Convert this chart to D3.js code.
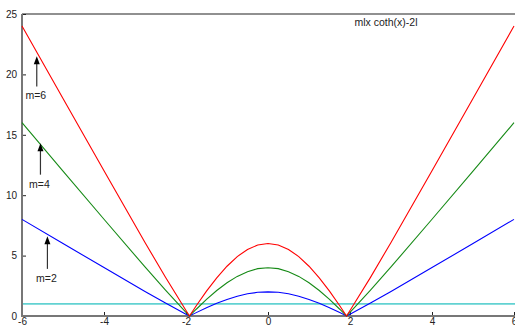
<!DOCTYPE html>
<html>
<head>
<meta charset="utf-8">
<script src="https://cdn.jsdelivr.net/npm/d3@7"></script>
<style>
  body { margin: 0; background: #fff; }
  svg { display: block; font-family: "Liberation Sans", Arial, sans-serif; }
</style>
</head>
<body>
<div id="chart"></div>
<script>
// sample x positions
const xs = [-6, -5, -4, -3, -2.5, -2, -1.915, -1.75, -1.5, -1.25, -1, -0.75, -0.5, -0.25, 0,
            0.25, 0.5, 0.75, 1, 1.25, 1.5, 1.75, 1.915, 2, 2.5, 3, 4, 5, 6];
const m2 = [8.00, 6.00, 4.01, 2.03, 1.07, 0.15, 0, 0.28, 0.69, 1.05, 1.37, 1.64, 1.84, 1.96, 2.00,
            1.96, 1.84, 1.64, 1.37, 1.05, 0.69, 0.28, 0, 0.15, 1.07, 2.03, 4.01, 6.00, 8.00];
const m4 = [16.00, 12.00, 8.01, 4.06, 2.14, 0.30, 0, 0.56, 1.37, 2.11, 2.75, 3.28, 3.67, 3.92, 4.00,
            3.92, 3.67, 3.28, 2.75, 2.11, 1.37, 0.56, 0, 0.30, 2.14, 4.06, 8.01, 12.00, 16.00];
const m6 = [24.00, 18.00, 12.02, 6.09, 3.20, 0.45, 0, 0.85, 2.06, 3.16, 4.12, 4.92, 5.51, 5.88, 6.00,
            5.88, 5.51, 4.92, 4.12, 3.16, 2.06, 0.85, 0, 0.45, 3.20, 6.09, 12.02, 18.00, 24.00];
const refLevel = 1;

const xTicks = [-6, -4, -2, 0, 2, 4, 6];
const yTicks = [0, 5, 10, 15, 20, 25];

// annotations: label, x, arrow tail y, arrow tip y
const notes = [
  {label: "m=6", x: -5.64, y0: 19.0, y1: 21.5},
  {label: "m=4", x: -5.55, y0: 11.7, y1: 14.3},
  {label: "m=2", x: -5.38, y0: 3.9, y1: 6.6}
];

const W = 515, H = 327;
const svg = d3.select("#chart").append("svg")
    .attr("width", W)
    .attr("height", H);

let x = d3.scaleLinear().domain([-6, 6]).range([22, 514]);
let y = d3.scaleLinear().domain([0, 25]).range([316, 14]);

// y axis ticks (inward)
let yAx = svg.append("g")
    .attr("transform", `translate(${x(-6)},0)`)
    .call(d3.axisLeft(y).tickValues(yTicks).tickSize(-4).tickPadding(5));
yAx.select(".domain").remove();
yAx.selectAll("line").attr("stroke", "#222");
yAx.selectAll("text").style("font-size", "10px").attr("fill", "#222");

let xAx = svg.append("g")
    .attr("transform", `translate(0,${y(0)})`)
    .call(d3.axisBottom(x).tickValues(xTicks).tickSize(-4).tickPadding(3)
      .tickFormat(function(d) { return String(d); }));
xAx.select(".domain").remove();
xAx.selectAll("line").attr("stroke", "#222");
xAx.selectAll("text").style("font-size", "10px").attr("fill", "#222").attr("dy", "0.55em");

// frame lines
svg.append("line")
    .attr("x1", x(-6)).attr("x2", W)
    .attr("y1", y(25)).attr("y2", y(25))
    .attr("stroke", "#222").attr("stroke-width", 1.2);
svg.append("line")
    .attr("x1", x(-6)).attr("x2", x(-6))
    .attr("y1", y(25)).attr("y2", y(0) + 1)
    .attr("stroke", "#777").attr("stroke-width", 2);
svg.append("line")
    .attr("x1", x(-6) - 1).attr("x2", W)
    .attr("y1", y(0)).attr("y2", y(0))
    .attr("stroke", "#777").attr("stroke-width", 2);

// reference level
svg.append("line")
    .attr("x1", x(-6) + 1).attr("x2", W)
    .attr("y1", y(refLevel)).attr("y2", y(refLevel))
    .attr("stroke", "#62d2d2").attr("stroke-width", 1.6);

let line = d3.line()
    .x(function(d, i) { return x(xs[i]); })
    .y(function(d) { return y(d); });

let series = [
  {vals: m2, color: "#0000ff"},
  {vals: m4, color: "#168a16"},
  {vals: m6, color: "#ff0000"}
];

svg.selectAll("path.curve").data(series).enter()
    .append("path")
    .attr("class", "curve")
    .attr("d", function(d) { return line(d.vals); })
    .attr("fill", "none")
    .attr("stroke", function(d) { return d.color; })
    .attr("stroke-width", 1.1);

// arrows + labels
notes.forEach(function(n) {
  let ax = x(n.x), tail = y(n.y0), tip = y(n.y1);
  svg.append("line")
      .attr("x1", ax).attr("x2", ax)
      .attr("y1", tail).attr("y2", tip + 6)
      .attr("stroke", "#333").attr("stroke-width", 1.2);
  svg.append("path")
      .attr("d", `M${ax},${tip} L${ax - 3},${tip + 8} L${ax + 3},${tip + 8} Z`)
      .attr("fill", "#000");
  svg.append("text")
      .attr("x", ax - 1)
      .attr("y", tail + 13)
      .style("text-anchor", "middle")
      .style("font-size", "10.5px")
      .attr("fill", "#222")
      .text(n.label);
});

// title
svg.append("text")
    .attr("x", 386)
    .attr("y", 26)
    .style("text-anchor", "middle")
    .style("font-size", "10.5px")
    .attr("fill", "#222")
    .text("mlx coth(x)-2l");
</script>
</body>
</html>
